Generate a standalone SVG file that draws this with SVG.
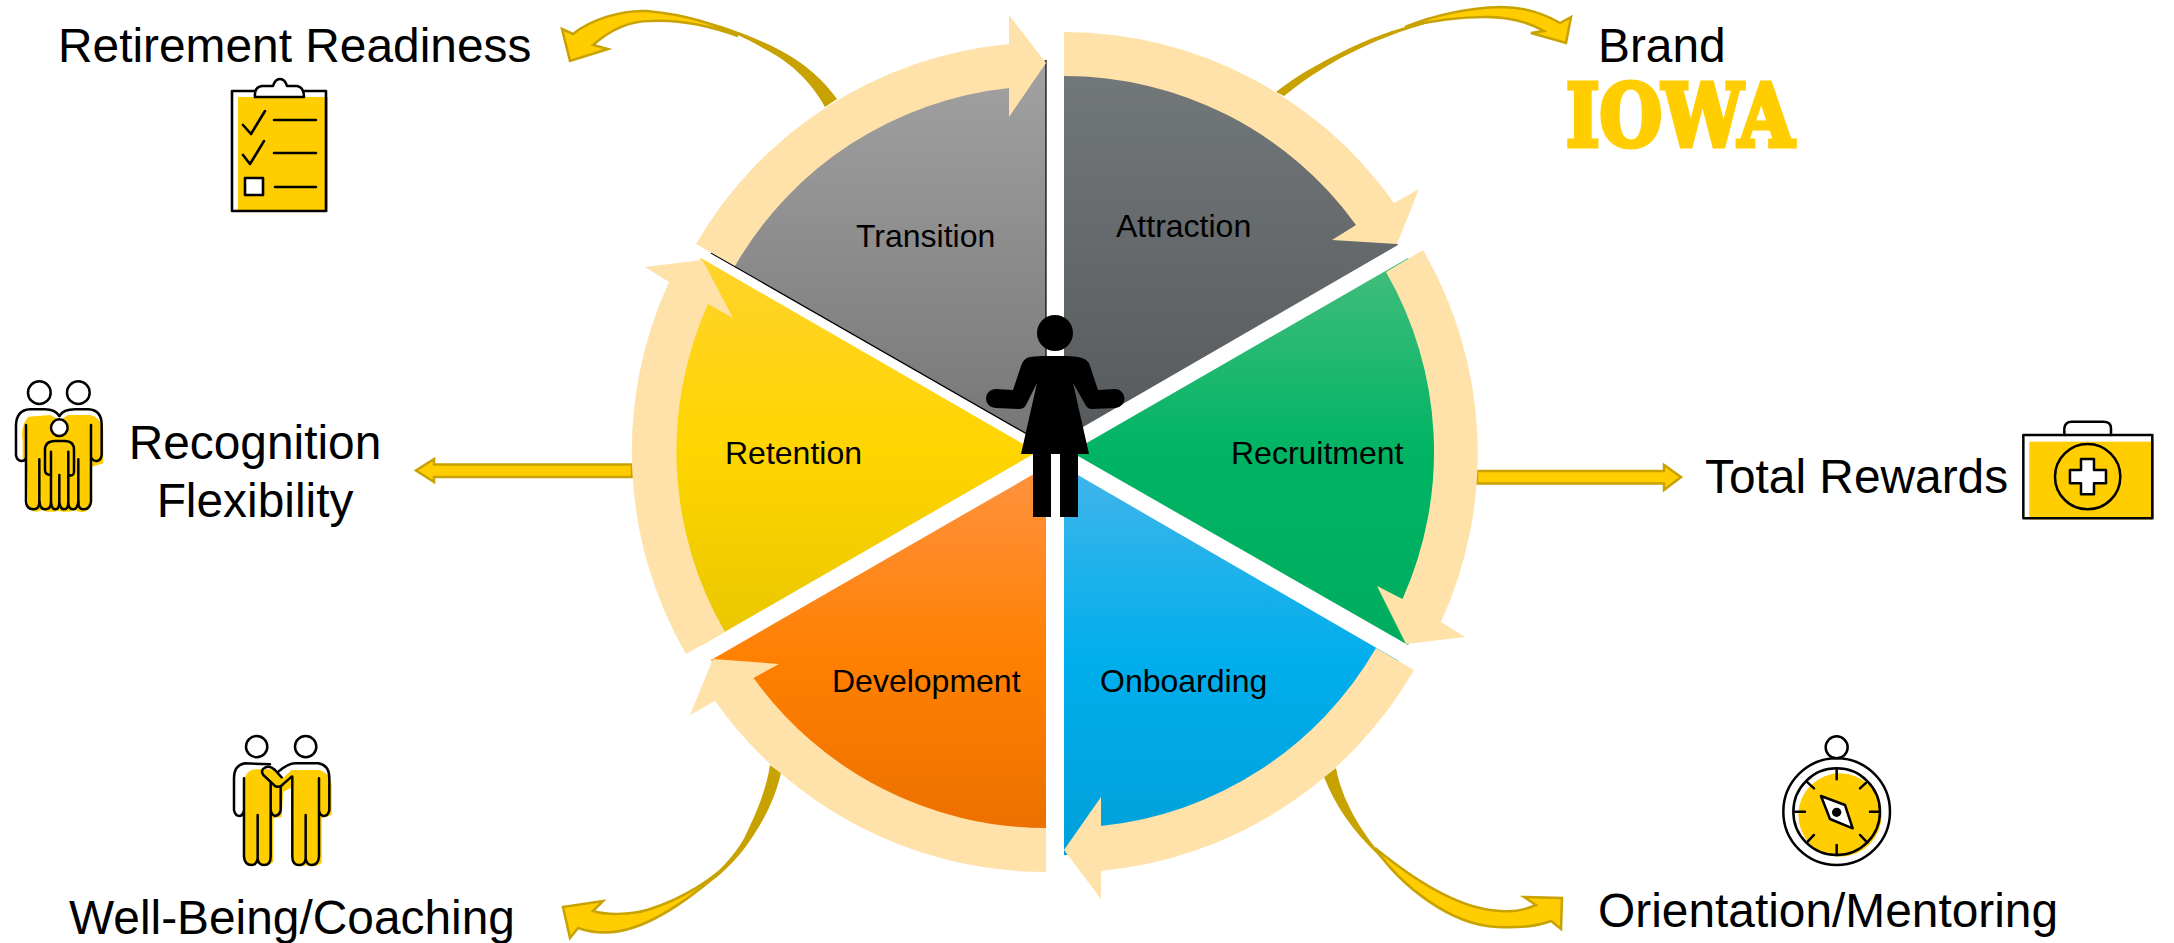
<svg xmlns="http://www.w3.org/2000/svg" width="2174" height="943" viewBox="0 0 2174 943">
<style>
text{font-family:"Liberation Sans",Arial,sans-serif;fill:#000}
.w{font-size:32px}
.o{font-size:47.850px}
.ring{fill:#fee2aa}
.arr{fill:#ffcd00;stroke:#c8a200;stroke-width:2.5;stroke-linejoin:miter}
.tail{fill:#c8a200}
.i{fill:none;stroke:#000;stroke-width:2.6;stroke-linecap:round;stroke-linejoin:round}
.y{fill:#ffcd00}
.wh{fill:#fff}
</style>
<defs>
<linearGradient id="gA" x1="0" y1="0" x2="0" y2="1"><stop offset="0" stop-color="#74797b"/><stop offset="1" stop-color="#565a5c"/></linearGradient>
<linearGradient id="gT" x1="0" y1="0" x2="0" y2="1"><stop offset="0" stop-color="#a2a2a2"/><stop offset="1" stop-color="#767676"/></linearGradient>
<linearGradient id="gR" x1="0" y1="0" x2="0" y2="1"><stop offset="0" stop-color="#44bd7c"/><stop offset=".5" stop-color="#00b464"/><stop offset="1" stop-color="#00ac5e"/></linearGradient>
<linearGradient id="gO" x1="0" y1="0" x2="0" y2="1"><stop offset="0" stop-color="#41b5ea"/><stop offset=".5" stop-color="#00aeec"/><stop offset="1" stop-color="#00a0da"/></linearGradient>
<linearGradient id="gD" x1="0" y1="0" x2="0" y2="1"><stop offset="0" stop-color="#ff9240"/><stop offset=".5" stop-color="#ff8000"/><stop offset="1" stop-color="#ea6e00"/></linearGradient>
<linearGradient id="gE" x1="0" y1="0" x2="0" y2="1"><stop offset="0" stop-color="#ffd32c"/><stop offset=".5" stop-color="#ffd500"/><stop offset="1" stop-color="#e8c600"/></linearGradient>
</defs>

<g id="connectors">
<path class="tail" d="M825,107 L837,99 C822,78 800,58 763,42 C745,34 722,25 690,17 C720,27 745,37 763,48 C790,62 810,80 825,107 Z"/>
<path class="arr" d="M738,36 C715,25 690,15 647,11 C620,10 590,20 573,34 L562,29 L570,61 L608,49 L593,45 C610,30 630,21 650,21 C680,19 710,26 738,36 Z"/>
<path class="tail" d="M1276,92 L1284,96 C1310,75 1335,60 1361,48 C1385,37 1405,29 1440,20 C1405,25 1385,33 1361,43 C1330,57 1300,73 1276,92 Z"/>
<path class="arr" d="M1405,27 C1430,17 1465,8 1501,7 C1525,7 1545,14 1560,23 L1571,17 L1566,43 L1531,33 L1544,31 C1530,23 1510,17 1486,17 C1455,17 1430,21 1405,27 Z"/>
<path class="tail" d="M770,765 L781,773 C777,790 770,810 755,833 C740,857 725,872 700,890 C722,868 740,850 748,830 C760,805 767,785 770,765 Z"/>
<path class="arr" d="M738,853 C715,880 670,915 635,927 C615,934 595,934 578,928 L570,938 L563,907 L603,901 L593,911 C605,915 630,915 647,910 C680,900 715,880 738,853 Z"/>
<path class="tail" d="M1324,777 L1336,768 C1342,800 1360,830 1383,857 C1395,870 1405,878 1420,888 C1400,878 1390,868 1378,855 C1352,830 1335,805 1324,777 Z"/>
<path class="arr" d="M1375,848 C1400,885 1450,925 1497,927 C1515,928 1535,927 1551,921 L1561,929 L1562,898 L1524,897 L1536,905 C1525,910 1512,912 1501,911 C1465,910 1420,885 1375,848 Z"/>
<path class="arr" d="M632,464.500 L434,464.500 L434,459 L416,470.500 L434,482 L434,477 L632,477 Z"/>
<path class="arr" d="M1477,471 L1664,471 L1664,465 L1681,477 L1664,490 L1664,483.500 L1477,483.500 Z"/>
</g>

<g id="attraction">
<path fill="url(#gA)" d="M1064,438 L1064,50 A388,388 0 0 1 1398,245 Z"/>
<path class="ring" d="M1064,32 A405,405 0 0 1 1394,203 L1419,189 L1397,244 L1332,240 L1356,225 A360,360 0 0 0 1064,76 Z"/>
<text class="w" x="1116" y="237">Attraction</text>
</g>
<g id="recruitment">
<path fill="url(#gR)" d="M1071,452 L1408,258 A388,388 0 0 1 1408,645 Z"/>
<path class="ring" d="M1423,250 A405,405 0 0 1 1441,622 L1465,637 L1406,644 L1377,586 L1402.500,599 A360,360 0 0 0 1386,272 Z"/>
<text class="w" x="1231" y="464">Recruitment</text>
</g>
<g id="onboarding">
<path fill="url(#gO)" d="M1064,467 L1399,661 A388,388 0 0 1 1064,855 Z"/>
<path class="ring" d="M1414,670 A405,405 0 0 1 1101,871 L1101,899 L1064,850 L1101,797 L1101,826 A360,360 0 0 0 1376,648 Z"/>
<text class="w" x="1100" y="692">Onboarding</text>
</g>
<g id="development">
<path fill="url(#gD)" d="M1046,467 L711,660 A388,388 0 0 0 1046,855 Z"/>
<path class="ring" d="M1046,872 A405,405 0 0 1 715,701 L690,715 L713,659 L779,664 L753.600,678 A360,360 0 0 0 1046,828 Z"/>
<text class="w" x="832" y="692">Development</text>
</g>
<g id="retention">
<path fill="url(#gE)" d="M1037,452 L701,258 A388,388 0 0 0 702,645 Z"/>
<path class="ring" d="M686,654 A405,405 0 0 1 669,282 L645,267 L702.500,260 L733,318 L708,304 A360,360 0 0 0 725,632 Z"/>
<text class="w" x="725" y="464">Retention</text>
</g>
<g id="transition">
<path fill="url(#gT)" d="M1046,445 L1046,60 A388,388 0 0 0 711,253 Z"/>
<path fill="none" stroke="#000" stroke-width="1.200" d="M1046,445 L1046,60 M1046,445 L711,253"/>
<path class="ring" d="M696,244 A405,405 0 0 1 1009,44 L1009,15 L1046,63 L1009,117 L1009,88 A360,360 0 0 0 735,266 Z"/>
<text class="w" x="856" y="247">Transition</text>
</g>

<g id="person">
<circle cx="1055" cy="333" r="18"/>
<path d="M1055,356 C1070,356 1081,356 1086,360 Q1089,362 1090,366 L1098,390 L1114.500,389 A9.500,9.500 0 0 1 1115.500,408 L1092,409 Q1087,409 1085,404 L1073,383 L1089,454 L1021,454 L1037,383 L1026,405 Q1024,409 1019,409 L995.500,408 A9.500,9.500 0 0 1 995.500,389 L1013,390 L1021,366 Q1023,360 1027,358 C1032,356 1042,356 1055,356 Z"/>
<rect x="1033" y="450" width="18" height="67"/>
<rect x="1060" y="450" width="18" height="67"/>
</g>

<g id="retirement-readiness">
<text class="o" x="58" y="62">Retirement Readiness</text>
<rect class="y" x="238" y="97" width="90" height="115"/>
<rect class="i" x="232" y="91" width="94" height="120"/>
<path class="i wh" d="M255,97 Q254,87 262,86 L273,86 Q275,79 280,79 Q285,79 287,86 L297,86 Q304,87 304,97 Z"/>
<path class="i" d="M243,125 L251,134 L265,111 M243,155 L250,164 L264,141 M274,120 L316,120 M274,153 L316,153 M275,187 L316,187"/>
<rect class="i wh" x="245" y="178" width="18" height="17"/>
</g>

<g id="brand">
<text class="o" x="1598" y="62">Brand</text>
<text x="1566" y="145.500" font-weight="700" font-size="86" textLength="228" lengthAdjust="spacingAndGlyphs" style="font-family:'DejaVu Serif',serif;fill:#ffcd00;stroke:#ffcd00;stroke-width:5">IOWA</text>
</g>

<g id="recognition-flexibility">
<text class="o" x="255" y="459" text-anchor="middle">Recognition</text>
<text class="o" x="255" y="517" text-anchor="middle">Flexibility</text>
<g transform="translate(0,360) scale(.3333)">
<path class="y" d="M85,170 Q60,200 68,240 L68,300 L80,300 L85,445 Q105,462 125,450 Q150,460 175,452 Q205,460 225,450 Q250,465 270,445 L275,320 L310,310 L310,210 Q300,170 270,165 L205,165 L180,180 L150,165 Z"/>
<g class="i" style="stroke-width:7.500">
<circle cx="118" cy="98" r="34"/><circle cx="235" cy="98" r="34"/>
<path d="M178,168 Q165,148 135,148 L90,148 Q50,150 48,195 L48,285 Q50,302 65,303 Q78,302 78,290 L78,195 M78,290 L78,425 Q80,448 100,448 Q118,448 118,425 L118,298"/>
<path d="M178,168 Q190,148 225,148 L265,148 Q305,150 305,195 L305,285 Q303,302 290,303 Q275,302 273,290 L273,195 M273,290 L273,425 Q270,448 250,448 Q235,448 235,425 L235,298"/>
<circle style="fill:#fff" cx="178" cy="203" r="25"/>
<path d="M153,345 Q135,345 135,330 L135,270 Q135,243 165,243 L195,243 Q222,243 222,270 L222,335 Q222,350 205,345 M153,275 L153,425 Q155,448 165,448 Q178,448 178,425 L178,345 M178,425 Q180,448 192,448 Q205,448 205,425 L205,275 M118,425 Q120,448 135,448 Q153,448 153,425 M235,425 Q232,448 220,448 Q205,448 205,425"/>
</g>
</g>
</g>

<g id="well-being-coaching">
<text class="o" x="69" y="934">Well-Being/Coaching</text>
<g transform="translate(210,720) scale(.3333)">
<path class="y" d="M105,170 Q115,148 140,148 L190,148 L218,175 L245,150 L330,150 Q365,165 365,195 L365,285 L335,295 L335,430 Q310,445 290,435 Q265,445 250,430 L250,200 L220,215 L215,290 L190,295 L190,425 Q165,445 145,430 Q120,440 105,420 Z"/>
<g class="i" style="stroke-width:7.500">
<circle cx="140" cy="80" r="32"/><circle cx="287" cy="80" r="32"/>
<path d="M180,133 L105,130 Q72,135 72,175 L72,270 Q75,288 90,288 Q100,285 102,270 L102,175 M102,270 L102,410 Q104,435 125,435 Q140,435 143,415 L143,285 M143,415 Q145,435 162,435 Q182,435 182,410 L182,190 M182,270 Q185,285 195,288 Q210,285 212,270 L212,200"/>
<path d="M205,155 Q235,130 255,130 L325,130 Q358,135 358,175 L358,270 Q355,288 340,288 Q328,285 327,270 L327,175 M327,270 L327,410 Q325,435 305,435 Q290,435 287,415 L287,285 M287,415 Q285,435 268,435 Q247,435 247,410 L247,170"/>
<path d="M165,143 Q150,150 160,165 L195,198 Q210,205 222,190 L245,170 M165,143 Q180,135 195,150 L215,172"/>
</g>
</g>
</g>

<g id="orientation-mentoring">
<text class="o" x="1598" y="927">Orientation/Mentoring</text>
<g transform="translate(1760,720) scale(.3333)">
<circle class="y" cx="240" cy="285" r="125"/>
<g class="i" style="stroke-width:7.500">
<circle cx="230" cy="82" r="33"/>
<circle cx="230" cy="275" r="160"/>
<circle cx="230" cy="275" r="130"/>
<path d="M230,150 L230,178 M230,375 L230,405 M105,275 L135,275 M330,275 L358,275 M140,185 L162,205 M322,185 L300,205 M140,368 L162,345 M322,368 L300,345"/>
<path style="fill:#fff" d="M183,228 L255,255 L278,325 L210,297 Z"/>
</g>
<circle cx="230" cy="277" r="14"/>
</g>
</g>

<g id="total-rewards">
<text class="o" x="1705" y="493">Total Rewards</text>
<g transform="translate(2010,400) scale(.3333)">
<rect class="y" x="58" y="125" width="374" height="233"/>
<g class="i" style="stroke-width:7.500">
<rect x="40" y="105" width="387" height="250"/>
<path d="M163,105 L163,85 Q165,65 185,65 L280,65 Q303,65 303,85 L303,105"/>
<circle cx="233" cy="230" r="98"/>
<path style="fill:#fff" d="M213,177 L252,177 L252,210 L288,210 L288,250 L252,250 L252,283 L213,283 L213,250 L180,250 L180,210 L213,210 Z"/>
</g>
</g>
</g>
</svg>
